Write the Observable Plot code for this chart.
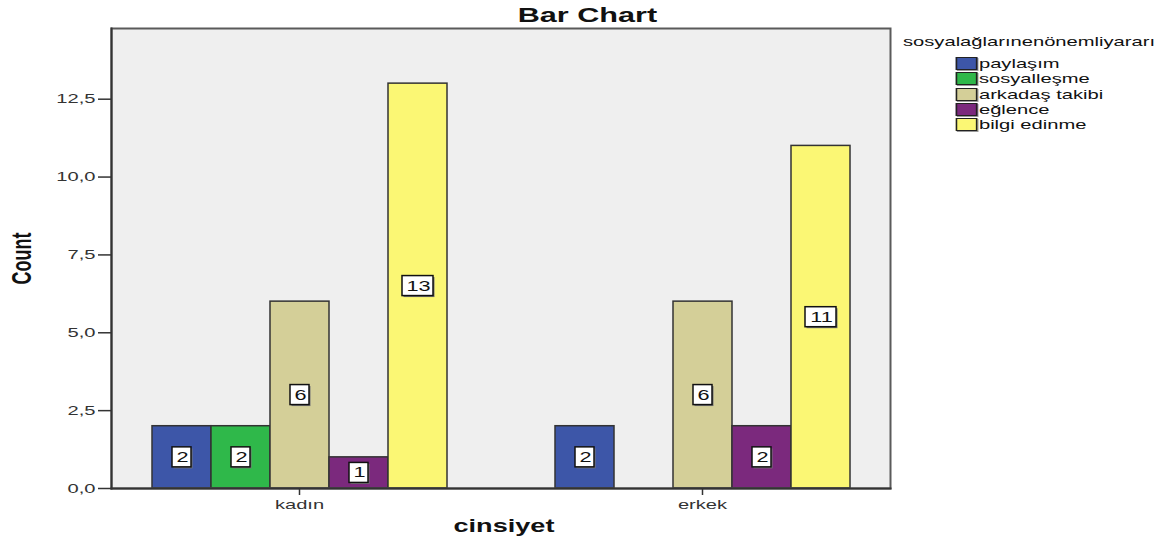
<!DOCTYPE html>
<html>
<head>
<meta charset="utf-8">
<script src="https://cdn.jsdelivr.net/npm/d3@7"></script>
<script src="https://cdn.jsdelivr.net/npm/@observablehq/plot@0.6"></script>
<style>
  body { margin: 0; background: #fff; font-family: "Liberation Sans", Arial, sans-serif; }
  #wrap { position: relative; width: 1174px; height: 548px; overflow: hidden; }
  #title { height: 26px; line-height: 30px; text-align: center; color: #111; white-space: nowrap; }
  #title span { display: inline-block; font-weight: bold; font-size: 19.5px; transform: scaleX(1.57); transform-origin: center; }
  #legend { position: absolute; left: 903px; top: 34px; font-size: 13px; color: #111;
            transform: scaleX(1.55); transform-origin: left top; }
  #legend .lt { line-height: 15px; height: 15px; white-space: nowrap; margin-bottom: 7px; }
  #legend .row { display: flex; align-items: center; height: 15.3px; margin-left: 34.2px; white-space: nowrap; }
  #legend .sw { width: 11.5px; height: 11px; border: 1px solid #222; margin-right: 1.3px; box-shadow: 0.7px 1px 0 #999; }
  svg text { font-family: "Liberation Sans", Arial, sans-serif; }
</style>
</head>
<body>
<div id="wrap">
  <div id="title"><span>Bar Chart</span></div>
  <div id="chart"></div>
  <div id="legend"></div>
</div>
<script>
// ---- data ----
const groups = ["kadın", "erkek"];
const categories = ["paylaşım", "sosyalleşme", "arkadaş takibi", "eğlence", "bilgi edinme"];
const kadinCounts = [2, 2, 6, 1, 13];
const erkekCounts = [2, null, 6, 2, 11];
const colors = ["#3d56a8", "#2fb84a", "#d4cf98", "#7b297d", "#fbf774"];
const yTicks = [0, 2.5, 5, 7.5, 10, 12.5];
const legendTitle = "sosyalağlarınenönemliyararı";
const xTitle = "cinsiyet";
const yTitle = "Count";

const seriesByGroup = [kadinCounts, erkekCounts];
const rows = [];
groups.forEach((g, gi) => categories.forEach((c, ci) => {
  const v = seriesByGroup[gi][ci];
  if (v != null) rows.push({ group: g, category: c, count: v });
}));
const oneDigit = rows.filter(d => String(d.count).length === 1);
const twoDigit = rows.filter(d => String(d.count).length > 1);

const plot = Plot.plot({
  width: 1174,
  height: 522,
  marginLeft: 111,
  marginRight: 284,
  marginTop: 2,
  marginBottom: 60,
  style: { background: "transparent", color: "#222", fontSize: "13px" },
  fx: { domain: groups, paddingInner: 0.067, paddingOuter: 0 },
  x: { domain: categories, padding: 0, insetLeft: 39, insetRight: 39, axis: null },
  y: { domain: [0, 14.77] },
  color: { domain: categories, range: colors },
  marks: [
    Plot.frame({ facet: "super", fill: "#efefef", stroke: null }),
    Plot.barY(rows, { fx: "group", x: "category", y: "count", fill: "category", stroke: "#333", strokeWidth: 1.5 }),
    // label boxes (shadow + box)
    Plot.rect(oneDigit, { fx: "group", x: "category", y1: d => d.count / 2, y2: d => d.count / 2,
      insetLeft: 20, insetRight: 20, insetTop: -10, insetBottom: -10, dx: 1.5, dy: 1.5, fill: "#777" }),
    Plot.rect(oneDigit, { fx: "group", x: "category", y1: d => d.count / 2, y2: d => d.count / 2,
      insetLeft: 20, insetRight: 20, insetTop: -10, insetBottom: -10, fill: "white", stroke: "#111", strokeWidth: 1.5 }),
    Plot.rect(twoDigit, { fx: "group", x: "category", y1: d => d.count / 2, y2: d => d.count / 2,
      insetLeft: 14, insetRight: 14, insetTop: -10, insetBottom: -10, dx: 1.5, dy: 1.5, fill: "#777" }),
    Plot.rect(twoDigit, { fx: "group", x: "category", y1: d => d.count / 2, y2: d => d.count / 2,
      insetLeft: 14, insetRight: 14, insetTop: -10, insetBottom: -10, fill: "white", stroke: "#111", strokeWidth: 1.5 }),
    Plot.text(rows, { fx: "group", x: "category", y: d => d.count / 2, text: d => String(d.count),
      fontSize: 14, fill: "#111", dx: 0.5 }),
    Plot.frame({ facet: "super", stroke: "#5a5a5a", strokeWidth: 2 }),
    Plot.frame({ facet: "super", anchor: "left", stroke: "#333", strokeWidth: 2 }),
    Plot.frame({ facet: "super", anchor: "bottom", stroke: "#333", strokeWidth: 2 }),
    Plot.axisY({ ticks: yTicks, tickFormat: d => d.toFixed(1).replace(".", ","), tickSize: 13, tickPadding: 3,
      label: null, fontSize: 13, stroke: "#333", strokeWidth: 1.5, fill: "#333" }),
    Plot.axisFx({ anchor: "bottom", tickSize: 7, tickPadding: 4, label: null, fontSize: 13, stroke: "#333", strokeWidth: 1.5, fill: "#333" }),
    Plot.text([yTitle], { facet: "super", frameAnchor: "left", textAnchor: "middle", text: d => d, rotate: -90, dx: -89,
      fontSize: 18, fontWeight: "bold", fontFamily: "Liberation Sans Narrow, Liberation Sans, sans-serif",
      fill: "#111" }),
    Plot.text([xTitle], { facet: "super", frameAnchor: "bottom", text: d => d, dy: 43, dx: 3,
      fontSize: 17.5, fontWeight: "bold", fill: "#111" })
  ]
});
document.getElementById("chart").appendChild(plot);

// horizontal stretch of glyphs, as in the reference rendering (scaled about each label's anchor)
d3.select(plot).selectAll("text").each(function () {
  const t = this.getAttribute("transform") || "";
  const rotated = /rotate\(\s*-?90/.test(t);
  this.setAttribute("transform", t + (rotated ? " scale(1,1.5)" : " scale(1.55,1)"));
});

// legend
const lg = document.getElementById("legend");
const lt = document.createElement("div");
lt.className = "lt";
lt.textContent = legendTitle;
lg.appendChild(lt);
categories.forEach((c, i) => {
  const r = document.createElement("div");
  r.className = "row";
  const sw = document.createElement("span");
  sw.className = "sw";
  sw.style.background = colors[i];
  const t = document.createElement("span");
  t.textContent = c;
  r.appendChild(sw);
  r.appendChild(t);
  lg.appendChild(r);
});
</script>
</body>
</html>
